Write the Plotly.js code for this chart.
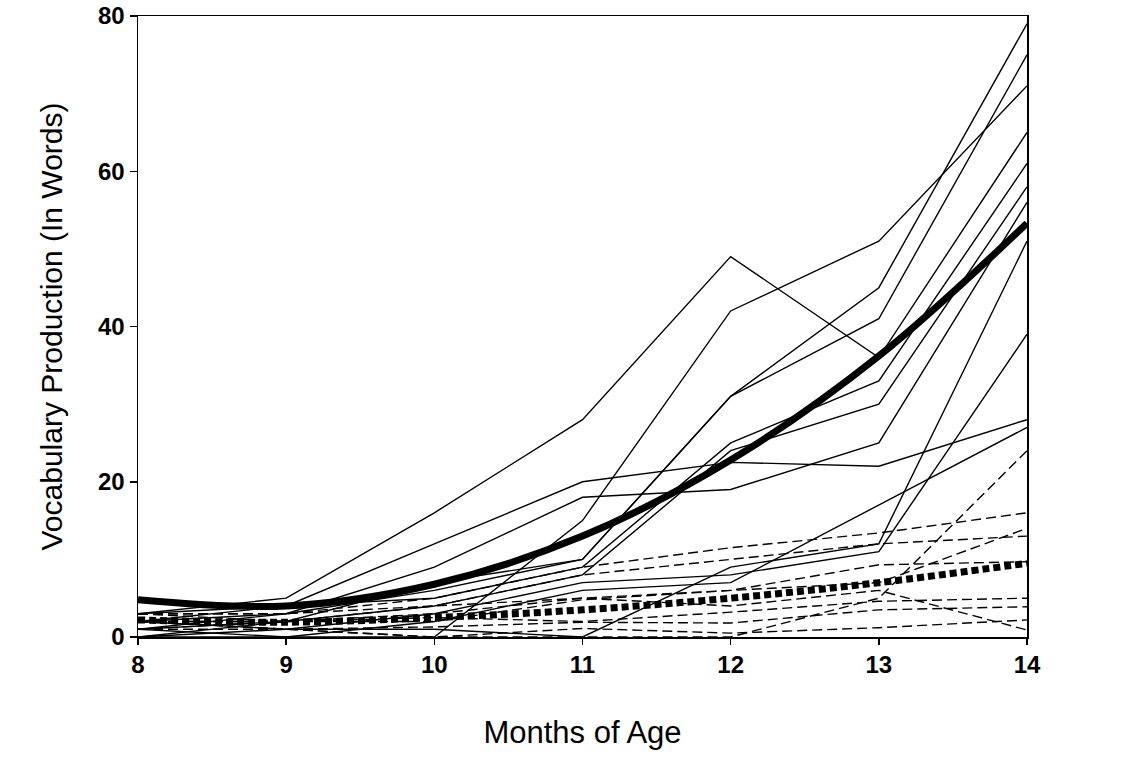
<!DOCTYPE html>
<html>
<head>
<meta charset="utf-8">
<script src="https://cdn.plot.ly/plotly-3.0.1.min.js"></script>
<style>html,body{margin:0;padding:0;background:#fff;}#chart{width:1121px;height:761px;}</style>
</head>
<body>
<div id="chart"></div>
<script>
// Months of age (x categories)
var months = [8, 9, 10, 11, 12, 13, 14];

// Individual children, group A (solid thin lines)
var solidA1  = [3, 5, 16, 28, 49, 36, 65];
var solidA2  = [1, 0, 0, 15, 42, 51, 71];
var solidA3  = [2, 4, 12, 20, 22.5, 22, 28];
var solidA4  = [1, 3, 9, 18, 19, 25, 56];
var solidA5  = [0, 2, 7, 10, 31, 45, 79];
var solidA6  = [2, 3, 6, 10, 31, 41, 75];
var solidA7  = [3, 4, 5, 9, 25, 33, 61];
var solidA8  = [1, 2, 4, 8, 24, 30, 58];
var solidA9  = [0, 0, 2, 6, 7, 17, 27];
var solidA10 = [0, 1, 1, 0, 9, 12, 51];
var solidA11 = [2, 1, 3, 7, 8, 11, 39];

// Individual children, group B (dashed thin lines)
var dashB1 = [2, 1, 0, 0, 0, 5, 24];
var dashB2 = [3, 3, 5, 9, 11.5, 13.4, 16];
var dashB3 = [3, 3, 4, 8, 10, 12, 13];
var dashB4 = [2, 2, 3, 5, 6, 7, 14];
var dashB5 = [2, 2, 2, 4.8, 6, 9.3, 9.7];
var dashB6 = [1, 2, 2.5, 2, 3.2, 4.6, 5];
var dashB7 = [1, 1, 1.3, 1.9, 1.8, 3.5, 3.9];
var dashB8 = [2, 1, 0, 1.1, 0.5, 1.2, 2.2];
var dashB9 = [3, 2, 4, 5, 4, 6, 0.9];

// Group growth curves (thick)
var meanA = [4.8, 4.0, 6.8, 13.0, 22.8, 36.2, 53.3];
var meanB = [2.2, 1.9, 2.5, 3.5, 5.0, 7.0, 9.5];

var yTicks = [0, 20, 40, 60, 80];

var solidSeries = [solidA1, solidA2, solidA3, solidA4, solidA5, solidA6, solidA7, solidA8, solidA9, solidA10, solidA11];
var dashSeries = [dashB1, dashB2, dashB3, dashB4, dashB5, dashB6, dashB7, dashB8, dashB9];

var traces = [];
dashSeries.forEach(function (s) {
  traces.push({x: months, y: s, mode: 'lines', type: 'scatter', hoverinfo: 'skip',
    line: {color: '#000', width: 1.4, dash: '10px,5px'}});
});
solidSeries.forEach(function (s) {
  traces.push({x: months, y: s, mode: 'lines', type: 'scatter', hoverinfo: 'skip',
    line: {color: '#000', width: 1.4}});
});
traces.push({x: months, y: meanB, mode: 'lines', type: 'scatter', hoverinfo: 'skip',
  line: {color: '#000', width: 7, dash: '7px,4px', shape: 'spline'}});
traces.push({x: months, y: meanA, mode: 'lines', type: 'scatter', hoverinfo: 'skip',
  line: {color: '#000', width: 7, shape: 'spline'}});

var layout = {
  width: 1121, height: 761,
  margin: {l: 138, r: 94, t: 16, b: 124},
  paper_bgcolor: '#fff', plot_bgcolor: '#fff',
  showlegend: false,
  font: {family: 'Liberation Sans, Arial, sans-serif', color: '#000'},
  xaxis: {
    range: [8, 14], tickvals: months, ticktext: months.map(String),
    showgrid: false, zeroline: false,
    showline: true, linecolor: '#000', linewidth: 1.5, mirror: true,
    ticks: 'outside', ticklen: 6, tickwidth: 1.5, tickcolor: '#000',
    tickfont: {size: 24, color: '#000', weight: 'bold'},
    title: {text: 'Months of Age', font: {size: 31, color: '#000'}, standoff: 44}
  },
  yaxis: {
    range: [0, 80], tickvals: yTicks, ticktext: yTicks.map(String),
    showgrid: false, zeroline: false,
    showline: true, linecolor: '#000', linewidth: 1.5, mirror: true,
    ticks: 'outside', ticklen: 7, tickwidth: 1.5, tickcolor: '#000',
    tickfont: {size: 24, color: '#000', weight: 'bold'},
    title: {text: 'Vocabulary Production (In Words)', font: {size: 30, color: '#000'}, standoff: 26}
  }
};

Plotly.newPlot('chart', traces, layout, {displayModeBar: false, staticPlot: true});
</script>
</body>
</html>
